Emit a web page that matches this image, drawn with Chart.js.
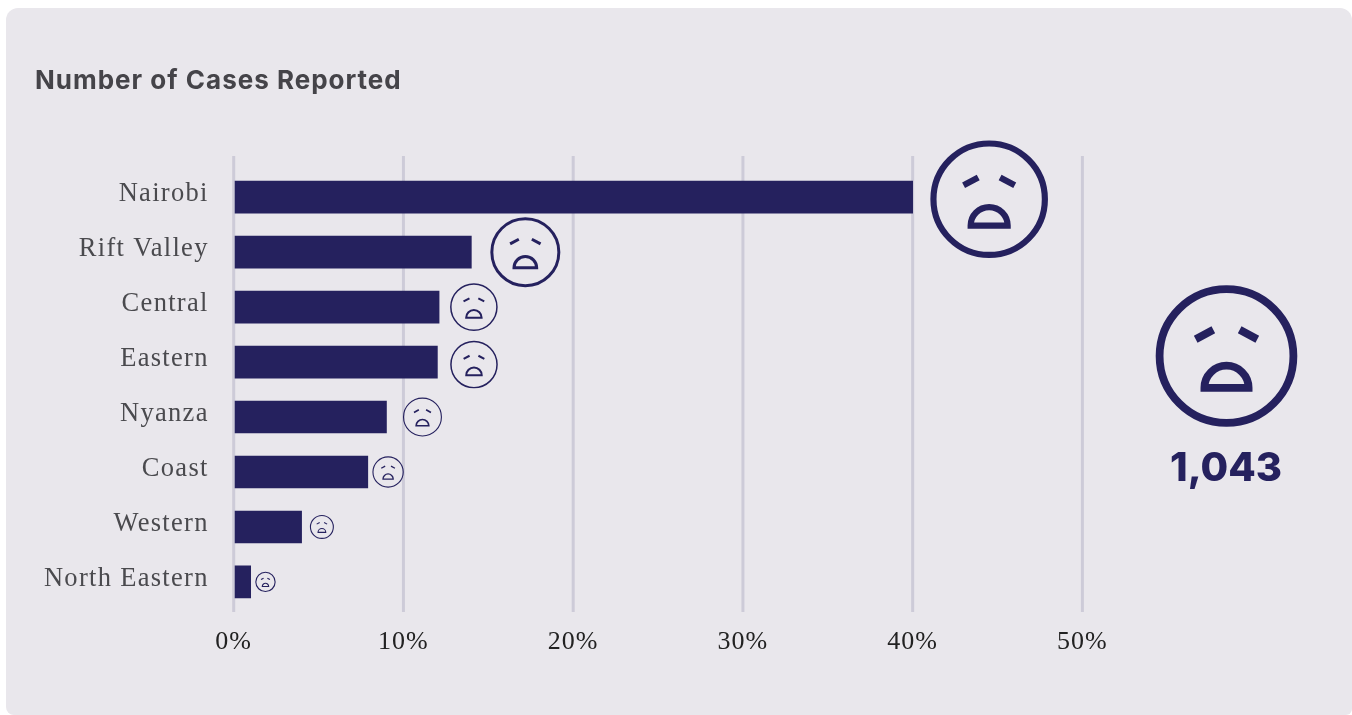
<!DOCTYPE html>
<html>
<head>
<meta charset="utf-8">
<script src="https://cdn.jsdelivr.net/npm/chart.js@4"></script>
<style>
    html, body { margin: 0; padding: 0; background: #fff; overflow: hidden; }
    #card {
        position: absolute; left: 6px; top: 8px; width: 1346px; height: 707px;
        background: #e9e7ec; border-radius: 12px 12px 6px 8px;
    }
    #cases { position: absolute; left: 0; top: 0; }
</style>
</head>
<body>
<div id="card"><canvas id="cases" width="1346" height="707"></canvas></div>
<script>
const regions = ['Nairobi', 'Rift Valley', 'Central', 'Eastern', 'Nyanza', 'Coast', 'Western', 'North Eastern'];
const shares = [40, 14, 12.1, 12, 9, 7.9, 4, 1];
const xTicks = [0, 10, 20, 30, 40, 50];
const totalCases = '1,043';

// face outer radius, gap after the bar end and drop below the bar centre, one per region
const faceRadius = [58.8, 35, 23.8, 23.8, 19.5, 15.7, 12, 10.2];
const faceGap = [17.7, 19, 11, 12.8, 16.5, 4.6, 8.3, 4.6];
const faceDrop = [2, 0, 0, 2.5, 0, 0, 0, 0];

const navy = '#25215e';

// sad face, scaled from its outer radius
function drawFace(ctx, cx, cy, r) {
    const ring = Math.max(1.1, 0.134 * r - 1.7);
    const feature = Math.max(ring, r * 0.085);
    ctx.save();
    ctx.translate(cx, cy);
    ctx.strokeStyle = navy;
    ctx.lineCap = 'butt';

    ctx.lineWidth = ring;
    ctx.beginPath();
    ctx.arc(0, 0, r - ring / 2, 0, Math.PI * 2);
    ctx.stroke();

    // brows
    ctx.lineWidth = feature;
    ctx.beginPath();
    ctx.moveTo(-0.435 * r, -0.237 * r);
    ctx.lineTo(-0.186 * r, -0.37 * r);
    ctx.moveTo(0.435 * r, -0.237 * r);
    ctx.lineTo(0.186 * r, -0.37 * r);
    ctx.stroke();

    // open mouth
    ctx.beginPath();
    ctx.arc(0, 0.449 * r, 0.367 * r - feature / 2, Math.PI, 0);
    ctx.closePath();
    ctx.stroke();
    ctx.restore();
}

const facesPlugin = {
    id: 'faces',
    // title and axis numbers are drawn first, slightly tracked
    beforeDraw(chart) {
        chart.ctx.letterSpacing = '1px';
    },
    // vertical rules stand a little taller than the category band
    beforeDatasetsDraw(chart) {
        const { ctx, scales: { x } } = chart;
        ctx.save();
        ctx.strokeStyle = '#cdcbd8';
        ctx.lineWidth = 3;
        xTicks.forEach(t => {
            const px = x.getPixelForValue(t);
            ctx.beginPath();
            ctx.moveTo(px, 148);
            ctx.lineTo(px, 604);
            ctx.stroke();
        });
        ctx.restore();
    },
    afterDatasetsDraw(chart) {
        const { ctx } = chart;
        chart.getDatasetMeta(0).data.forEach((bar, i) => {
            const r = faceRadius[i];
            drawFace(ctx, bar.x + faceGap[i] + r, bar.y + faceDrop[i], r);
        });

        // headline figure in the right column
        drawFace(ctx, 1220.5, 348, 70.8);
        ctx.save();
        ctx.letterSpacing = '0px';
        ctx.fillStyle = navy;
        ctx.font = '800 40px Inter, "Open Sans", sans-serif';
        ctx.textAlign = 'center';
        ctx.textBaseline = 'middle';
        ctx.fillText(totalCases, 1220, 461);
        ctx.restore();

        // the region labels come next (z 1) with their own tracking
        ctx.letterSpacing = '1.3px';
    },
    afterDraw(chart) {
        chart.ctx.letterSpacing = '0px';
    }
};

new Chart(document.getElementById('cases').getContext('2d'), {
    type: 'bar',
    data: {
        labels: regions,
        datasets: [{
            data: shares,
            backgroundColor: navy,
            barThickness: 32,
            base: 0.08
        }]
    },
    options: {
        indexAxis: 'y',
        responsive: false,
        animation: false,
        layout: { padding: { left: 29, right: 269.6, top: 0, bottom: 48.4 } },
        plugins: {
            legend: { display: false },
            tooltip: { enabled: false },
            title: {
                display: true,
                text: 'Number of Cases Reported',
                align: 'start',
                color: '#454449',
                font: { family: 'Inter, "Open Sans", sans-serif', size: 26, weight: '700' },
                padding: { top: 58, bottom: 72.5 }
            }
        },
        scales: {
            x: {
                min: 0,
                max: 50,
                grid: { display: false },
                border: { display: false },
                afterBuildTicks(axis) { axis.ticks = xTicks.map(v => ({ value: v })); },
                ticks: {
                    color: '#222',
                    padding: 9,
                    font: { family: '"Liberation Serif", serif', size: 26 },
                    maxRotation: 0,
                    callback: v => v + '%'
                }
            },
            y: {
                grid: { display: false },
                border: { display: false },
                afterFit(axis) { axis.width = 198.7; },
                ticks: {
                    z: 1,
                    color: '#4a4a4e',
                    padding: 17,
                    labelOffset: -3,
                    autoSkip: false,
                    font: { family: '"Liberation Serif", serif', size: 26.5 }
                }
            }
        }
    },
    plugins: [facesPlugin]
});
</script>
</body>
</html>
